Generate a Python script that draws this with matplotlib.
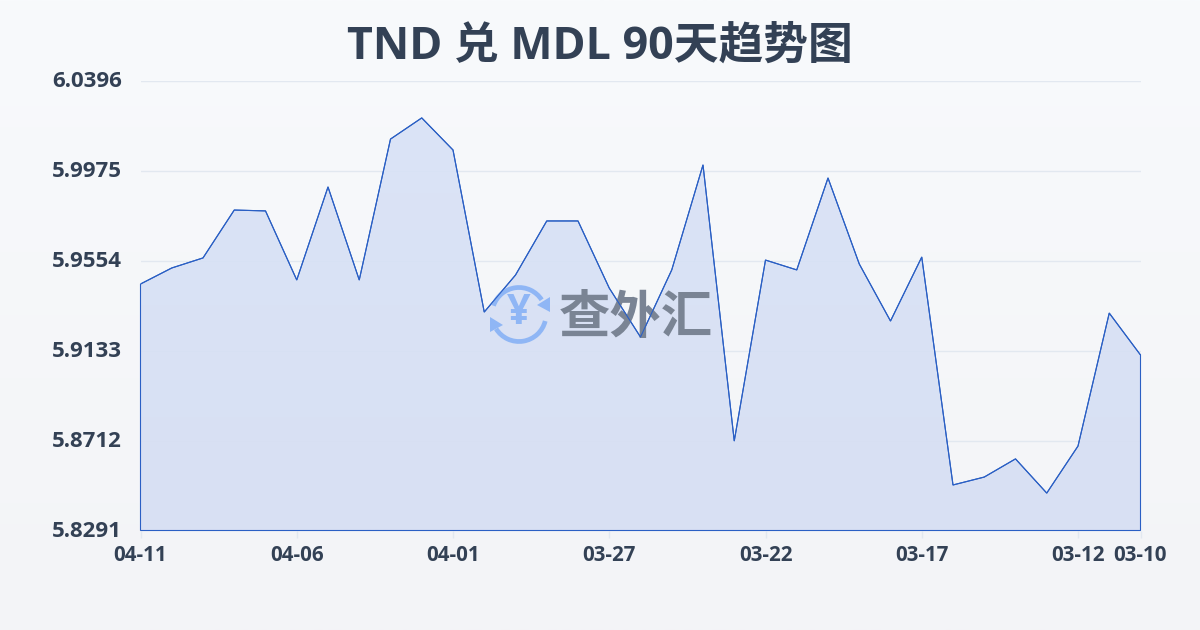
import numpy as np
import matplotlib
matplotlib.use("Agg")
import matplotlib.pyplot as plt
from matplotlib.colors import LinearSegmentedColormap
from matplotlib.patches import Arc, Polygon
from matplotlib.transforms import ScaledTranslation

plt.rcParams["font.family"] = ["Noto Sans CJK SC", "DejaVu Sans"]

# ── Data ──────────────────────────────────────────────────────
rates = [5.9444, 5.9519, 5.9566, 5.9790, 5.9786, 5.9463, 5.9898, 5.9463, 6.0122,
         6.0221, 6.0071, 5.9313, 5.9486, 5.9739, 5.9739, 5.9425, 5.9196, 5.9510,
         6.0001, 5.8710, 5.9556, 5.9510, 5.9940, 5.9538, 5.9271, 5.9570, 5.8504,
         5.8541, 5.8626, 5.8466, 5.8686, 5.9308, 5.9112]
x_ticks = [0, 5, 10, 15, 20, 25, 30, 32]
x_labels = ["04-11", "04-06", "04-01", "03-27", "03-22", "03-17", "03-12", "03-10"]
y_ticks = [5.8291, 5.8712, 5.9133, 5.9554, 5.9975, 6.0396]
y_labels = ["5.8291", "5.8712", "5.9133", "5.9554", "5.9975", "6.0396"]
title = "TND 兑 MDL 90天趋势图"
watermark = "查外汇"

TEXT = "#334155"
LINE = "#2a5fc4"
LATIN = ["Open Sans", "Noto Sans CJK SC", "DejaVu Sans"]
W, H = 1200, 630

fig = plt.figure(figsize=(12, 6.3), dpi=100)

# ── Background gradient ───────────────────────────────────────
bg = fig.add_axes([0, 0, 1, 1], zorder=0)
bg_cmap = LinearSegmentedColormap.from_list("bg", ["#f8fafc", "#f3f4f7"])
bg.imshow(np.linspace(0, 1, 256).reshape(-1, 1), cmap=bg_cmap, aspect="auto", extent=[0, W, H, 0])
bg.set_xlim(0, W)
bg.set_ylim(H, 0)
bg.axis("off")

# ── Main chart ────────────────────────────────────────────────
ax = fig.add_axes([140.5 / W, 1 - 530.5 / H, 1000 / W, 450 / H], zorder=1)
ax.patch.set_alpha(0)
x = np.arange(len(rates))
ax.set_xlim(0, len(rates) - 1)
ax.set_ylim(y_ticks[0], y_ticks[-1])

for s in ax.spines.values():
    s.set_visible(False)
ax.set_axisbelow(True)
ax.yaxis.grid(True, color="#e2e8f0", linewidth=1)
ax.set_xticks(x_ticks, x_labels, fontsize=14.8, fontweight="bold", family=LATIN, color=TEXT)
ax.set_yticks(y_ticks, y_labels, fontsize=16, fontweight="bold", family=LATIN, color=TEXT)
ax.tick_params(axis="y", length=0, pad=13.4)
ax.tick_params(axis="x", length=5, width=1, color="#e2e8f0", pad=5.5)
up = ScaledTranslation(0, 1 / 72, fig.dpi_scale_trans)
for lab in ax.get_yticklabels():
    lab.set_transform(lab.get_transform() + up)

# gradient fill clipped to the area under the line
pts = np.column_stack([np.r_[x, x[-1], x[0]], np.r_[rates, y_ticks[0], y_ticks[0]]])
fill_cmap = LinearSegmentedColormap.from_list("fill", ["#d9e3f7", "#d6dff3"])
im = ax.imshow(np.linspace(0, 1, 256).reshape(-1, 1), cmap=fill_cmap, aspect="auto", zorder=2,
               extent=[x[0], x[-1], y_ticks[0], y_ticks[-1]], alpha=0.92)
clip = Polygon(pts, closed=True, transform=ax.transData, facecolor="none", edgecolor="none")
ax.add_patch(clip)
im.set_clip_path(clip)
ax.set_xlim(0, len(rates) - 1)
ax.set_ylim(y_ticks[0], y_ticks[-1])
ax.add_patch(Polygon(pts, closed=True, facecolor="none", edgecolor=LINE, linewidth=0.8, zorder=5, clip_on=False))

fig.text(0.5, 1 - 47.5 / H, title, ha="center", va="center", fontsize=32.2, fontweight="bold",
         color=TEXT, family=LATIN)

# ── Watermark ─────────────────────────────────────────────────
wm = fig.add_axes([0, 0, 1, 1], zorder=2)
wm.set_xlim(0, W)
wm.set_ylim(H, 0)
wm.axis("off")
wm.patch.set_alpha(0)
BLUE = "#8fb6f5"
cx, cy = 519, 314.5
wm.add_patch(Arc((cx, cy), 54, 54, theta1=-161, theta2=-33, color=BLUE, lw=3.4))
wm.add_patch(Arc((cx, cy), 54, 54, theta1=14, theta2=148, color=BLUE, lw=3.4))
wm.add_patch(Polygon([(550, 297), (550, 312), (537, 305)], closed=True, color=BLUE, lw=0))
wm.add_patch(Polygon([(490, 317), (490, 332), (503, 325)], closed=True, color=BLUE, lw=0))
wm.text(cx, cy - 1, "¥", ha="center", va="center", fontsize=30, fontweight="bold", color=BLUE, family=LATIN)
wm.text(636, 317, watermark, ha="center", va="center", fontsize=37, fontweight="bold", color="#7a8494")

# line stays on top of the watermark
line_ax = fig.add_axes(ax.get_position(), zorder=3)
line_ax.patch.set_alpha(0)
line_ax.axis("off")
line_ax.set_xlim(ax.get_xlim())
line_ax.set_ylim(ax.get_ylim())
line_ax.plot(x, rates, color=LINE, linewidth=0.8)

fig.savefig("out.png", dpi=100)
